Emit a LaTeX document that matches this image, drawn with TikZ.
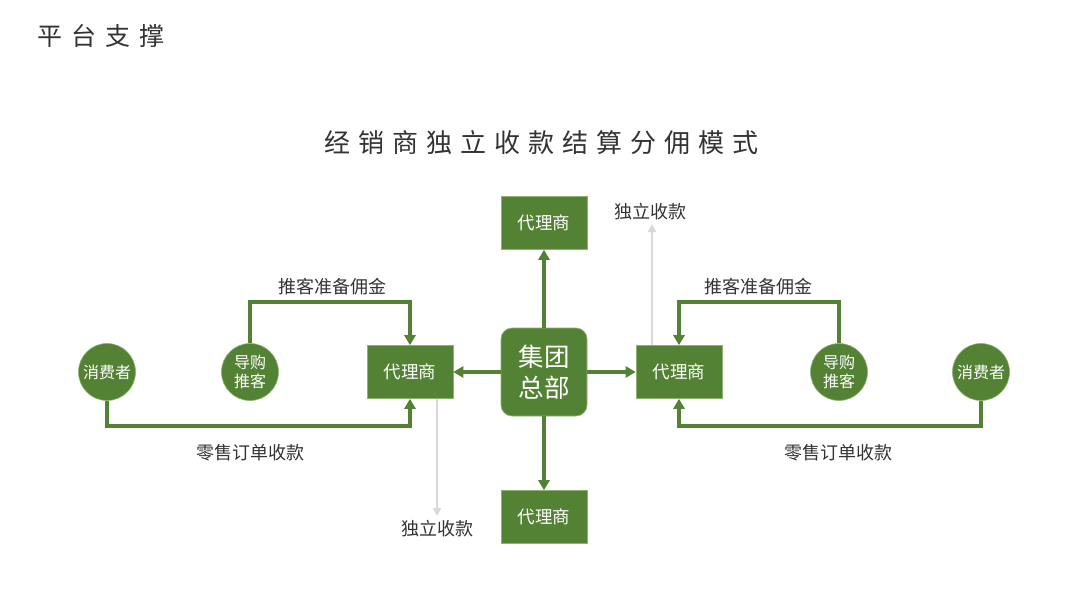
\documentclass[tikz,border=0pt]{standalone}
\usepackage{fontspec}
\setmainfont{Noto Sans CJK SC}
\usetikzlibrary{arrows.meta}
\definecolor{grn}{HTML}{548235}
\definecolor{grnline}{HTML}{8DB26F}
\definecolor{txt}{HTML}{333333}
\definecolor{lgray}{HTML}{D9D9D9}
\begin{document}
\begin{tikzpicture}[x=1pt,y=-1pt,
  agent/.style={rectangle, fill=grn, draw=grnline, line width=0.6pt, minimum width=86pt, minimum height=53pt, inner sep=0pt, text=white, font=\fontsize{17.5}{20}\selectfont},
  hq/.style={rectangle, rounded corners=11pt, fill=grn, draw=grnline, line width=0.6pt, minimum width=86pt, minimum height=88pt, inner sep=0pt, text=white, align=center, font=\fontsize{25.5}{31}\selectfont},
  person/.style={circle, fill=grn, draw=grnline, line width=0.6pt, minimum size=57pt, inner sep=0pt, text=white, align=center, font=\fontsize{16}{18.5}\selectfont},
  gline/.style={draw=grn, line width=3.3pt, -{Triangle[length=10pt,width=11pt]}},
  grayarr/.style={draw=lgray, line width=1.8pt, -{Triangle[length=8pt,width=8pt]}},
  lbl/.style={text=txt, inner sep=0pt, font=\fontsize{18}{20}\selectfont},
  ttl/.style={text=txt, inner sep=0pt, anchor=west}
]
\useasboundingbox (0,0) rectangle (1080,608);
\fill[white] (0,0) rectangle (1080,608);

% titles
\node[ttl, font=\fontsize{25}{28}\selectfont\addfontfeature{LetterSpace=36}] (t1) at (37,36) {平台支撑};
\node[ttl, font=\fontsize{26}{30}\selectfont\addfontfeature{LetterSpace=31}] (t2) at (324,143) {经销商独立收款结算分佣模式};

% nodes
\node[hq] (hq) at (544,372) {集团\\总部};
\node[agent] (atop) at (544,223) {代理商};
\node[agent] (abot) at (544,517) {代理商};
\node[agent] (aleft) at (410,372) {代理商};
\node[agent] (aright) at (679,372) {代理商};
\node[person] (cl) at (107,372) {消费者};
\node[person] (gl) at (250,372) {导购\\推客};
\node[person] (gr) at (839,372) {导购\\推客};
\node[person] (cr) at (981,372) {消费者};

% hq arrows
\draw[gline] (hq.north) -- (atop.south);
\draw[gline] (hq.south) -- (abot.north);
\draw[gline] (hq.west) -- (aleft.east);
\draw[gline] (hq.east) -- (aright.west);

% loops
\coordinate (ltop) at (330,302);
\coordinate (lbot) at (250,426);
\coordinate (rtop) at (760,302);
\coordinate (rbot) at (840,426);
\draw[gline] (gl.north) |- (ltop) -| (aleft.north);
\draw[gline] (cl.south) |- (lbot) -| (aleft.south);
\draw[gline] (gr.north) |- (rtop) -| (aright.north);
\draw[gline] (cr.south) |- (rbot) -| (aright.south);

\node[lbl] (l1) at (332,287) {推客准备佣金};
\node[lbl] (l2) at (250,453) {零售订单收款};
\node[lbl] (l3) at (758,287) {推客准备佣金};
\node[lbl] (l4) at (838,453) {零售订单收款};

% gray arrows
\coordinate (gend1) at (437,516);
\coordinate (gend2) at (652,224);
\draw[grayarr] ([xshift=27pt]aleft.south) -- (gend1);
\draw[grayarr] ([xshift=-27pt]aright.north) -- (gend2);
\node[lbl] (s1) at (437,529) {独立收款};
\node[lbl] (s2) at (650,212) {独立收款};
\end{tikzpicture}
\end{document}
